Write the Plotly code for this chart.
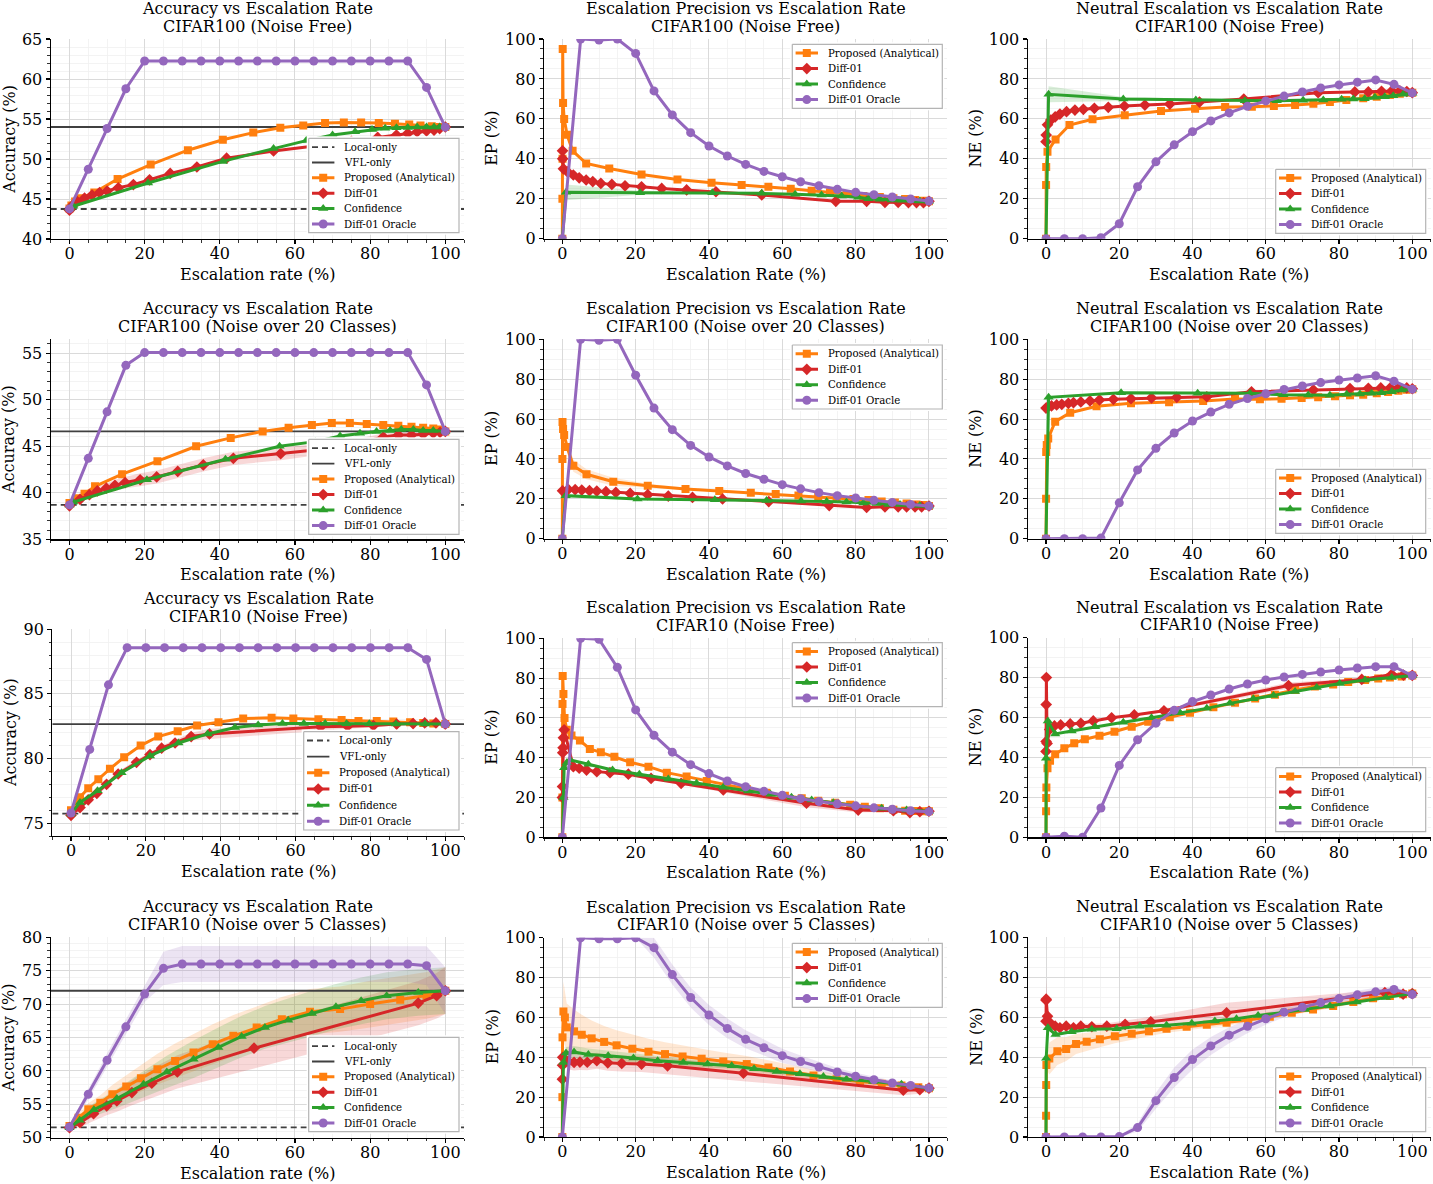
import plotly.graph_objects as go

# ======================= DATA =======================
oracle_x = [0, 5, 10, 15, 20, 25, 30, 35, 40, 45, 50, 55, 60, 65, 70, 75, 80, 85, 90, 95, 100]
ref_x = [-5, 105]

# ---- Row 1: CIFAR100 (Noise Free) ----
a1_local = 43.75
a1_vfl = 54.0
a1_prop_x = [0, 0.5, 1.5, 3, 6.6, 12.8, 21.6, 31.5, 40.8, 48.9, 56.1, 62.2, 68, 73, 77.6, 82.3, 86.6, 90.4, 93.4, 96.4, 98.4, 100]
a1_prop_y = [43.8, 44.2, 44.7, 45.1, 45.8, 47.5, 49.3, 51.1, 52.4, 53.3, 53.9, 54.2, 54.5, 54.55, 54.55, 54.5, 54.4, 54.3, 54.2, 54.1, 54.0, 54.0]
a1_diff_x = [0, 0.3, 1, 2, 4, 6, 8, 10, 13, 17, 21.3, 26.8, 33.9, 41.8, 54.3, 65, 75, 82, 87, 90, 92.5, 95, 97, 98.5, 100]
a1_diff_y = [43.6, 43.9, 44.3, 44.7, 45.1, 45.5, 45.8, 46.0, 46.4, 46.8, 47.4, 48.2, 49.0, 50.1, 51.0, 51.6, 52.2, 52.7, 53.0, 53.2, 53.4, 53.5, 53.6, 53.8, 54.0]
a1_conf_x = [0, 1, 20.9, 40.8, 54.3, 63, 70, 76, 80.5, 84, 87, 90, 92.5, 95, 97, 98.5, 100]
a1_conf_y = [43.8, 44.1, 47.0, 49.7, 51.3, 52.3, 53.0, 53.4, 53.7, 53.85, 53.9, 53.95, 54.0, 54.0, 54.0, 54.0, 54.0]
a1_orac_y = [43.76, 48.72, 53.81, 58.78, 62.25, 62.25, 62.25, 62.25, 62.25, 62.25, 62.25, 62.25, 62.25, 62.25, 62.25, 62.25, 62.25, 62.25, 62.25, 58.95, 53.98]

b1_prop_x = [0, 0.02, 0.05, 0.1, 0.2, 0.5, 1.3, 2.8, 6.5, 12.8, 21.6, 31.4, 40.7, 48.9, 56.2, 62.3, 68, 73, 77.5, 82.1, 86.6, 90.3, 93.5, 96.2, 98.5, 100]
b1_prop_y = [0, 20, 40, 95, 68, 60, 52, 44, 37.7, 35.2, 32.2, 29.7, 28.0, 26.9, 26.0, 25.0, 24.0, 23.2, 22.4, 21.4, 20.9, 20.2, 19.9, 19.4, 19.0, 18.8]
b1_diff_x = [0.05, 0.1, 0.3, 1.4, 3, 4.6, 6.5, 8.3, 10.5, 13.5, 17.1, 21.6, 27.1, 33.9, 41.9, 54.4, 74.6, 83, 88, 91.6, 94.4, 96.6, 98.5, 100]
b1_diff_y = [44, 40, 35, 33.5, 31.9, 30.5, 29.4, 28.6, 27.7, 27.2, 26.5, 26.0, 25.2, 24.4, 23.5, 21.9, 18.7, 18.7, 18.2, 18.2, 18.1, 18.1, 18.0, 18.7]
b1_conf_x = [0, 1, 21.2, 40.9, 54.4, 63.5, 70.7, 76.2, 80.7, 83.5, 86.6, 89.8, 92.5, 95.3, 97.5, 100]
b1_conf_y = [0, 23.2, 23.0, 23.0, 22.7, 22.2, 21.9, 21.4, 20.7, 20.0, 19.8, 19.4, 19.2, 19.0, 18.9, 18.7]
b1_conf_sd = [0, 4, 1, 0.5, 0.5, 0.5, 0.5, 0.5, 0.5, 0.5, 0.5, 0.5, 0.5, 0.5, 0.5, 0.5]
b1_orac_y = [0, 100, 99.5, 100, 92.8, 74, 62, 53.1, 46.4, 41.4, 37.2, 33.7, 31, 28.5, 26.5, 24.7, 23.2, 22, 20.9, 19.9, 18.9]

c1_prop_x = [0, 0.02, 0.05, 0.4, 2.6, 6.4, 12.7, 21.5, 31.4, 40.7, 48.9, 56.2, 62.2, 68, 73, 77.5, 82, 86.6, 90.3, 93.9, 96.6, 100]
c1_prop_y = [0, 26.9, 35.9, 43.6, 49.7, 56.9, 59.8, 61.8, 63.9, 65.1, 65.9, 66.1, 66.4, 66.9, 67.6, 68.4, 69.4, 70.3, 71.1, 72.0, 72.6, 73.1]
c1_diff_x = [0, 0.05, 0.4, 1.3, 2.5, 3.8, 5.6, 7.9, 10.2, 13.2, 17, 21.4, 27, 33.8, 41.9, 54, 74.3, 84.3, 88, 91.6, 94.4, 96.6, 98.5, 100]
c1_diff_y = [48.6, 51.9, 57, 59.4, 61, 62.4, 63.6, 64.4, 64.8, 65.3, 65.8, 66.4, 66.9, 67.4, 68.4, 69.9, 73.1, 73.5, 73.5, 73.8, 74.0, 74.0, 73.7, 73.1]
c1_conf_x = [0, 0.7, 21.1, 40.9, 54.3, 63, 70.2, 75.7, 80.7, 83.9, 87, 89.8, 92.5, 94.8, 97.5, 100]
c1_conf_y = [0, 72.3, 70, 69.4, 69.1, 69.1, 69.3, 69.4, 69.8, 69.9, 70.1, 70.8, 71.1, 71.6, 72.3, 72.8]
c1_conf_sd = [0, 4, 1, 0.5, 0.3, 0.3, 0.3, 0.3, 0.3, 0.3, 0.3, 0.3, 0.3, 0.3, 0.3, 0.3]
c1_orac_y = [0, 0, 0, 0.5, 7.5, 26, 38.5, 47, 53.6, 59, 63, 66.3, 69, 71.4, 73.5, 75.5, 77, 78.4, 79.5, 77.3, 73]

# ---- Row 2: CIFAR100 (Noise over 20 Classes) ----
a2_local = 38.7
a2_vfl = 46.6
a2_prop_x = [0, 2, 4, 6.8, 14, 23.4, 33.7, 42.9, 51.4, 58.3, 64.5, 69.8, 74.6, 79.1, 83.5, 87.5, 91, 94.1, 96.8, 98.6, 100]
a2_prop_y = [38.9, 39.4, 39.9, 40.7, 42.0, 43.4, 45.0, 45.9, 46.6, 47.0, 47.3, 47.5, 47.5, 47.4, 47.3, 47.2, 47.1, 47.0, 46.9, 46.8, 46.6]
a2_diff_x = [0, 2.8, 5.3, 7.4, 9.8, 12.1, 14.8, 18.8, 23.2, 28.8, 35.6, 43.6, 56.2, 65.3, 74.6, 83.5, 87.5, 91, 94.1, 96.8, 98.6, 100]
a2_diff_y = [38.6, 39.3, 39.8, 40.2, 40.5, 40.8, 41.1, 41.4, 41.7, 42.3, 43.0, 43.7, 44.2, 44.6, 45.1, 46.0, 46.2, 46.2, 46.3, 46.4, 46.5, 46.6]
a2_diff_sd = [0.1, 0.3, 0.4, 0.5, 0.5, 0.6, 0.6, 0.7, 0.7, 0.7, 0.7, 0.7, 0.7, 0.6, 0.5, 0.4, 0.3, 0.3, 0.2, 0.2, 0.1, 0.1]
a2_conf_x = [0, 1, 20.6, 41.5, 55.9, 65.4, 72, 77.3, 81.7, 85.3, 88.3, 91.5, 94.1, 96.8, 100]
a2_conf_y = [38.7, 39.0, 41.4, 43.6, 45.0, 45.5, 46.1, 46.4, 46.6, 46.7, 46.8, 46.8, 46.7, 46.7, 46.6]
a2_orac_y = [38.7, 43.7, 48.7, 53.7, 55.07, 55.07, 55.07, 55.07, 55.07, 55.07, 55.07, 55.07, 55.07, 55.07, 55.07, 55.07, 55.07, 55.07, 55.07, 51.6, 46.6]

b2_prop_x = [0, 0.02, 0.05, 0.2, 0.5, 1.3, 3, 6.6, 13.9, 23.3, 33.6, 42.8, 51.4, 58.2, 64.4, 69.8, 74.8, 79.4, 83.5, 87.1, 90.7, 93.9, 96.6, 98.5, 100]
b2_prop_y = [0, 40, 58.5, 55, 52, 46, 36.6, 32.3, 28.6, 26.6, 24.9, 23.9, 23.1, 22.4, 21.7, 21.1, 20.6, 19.9, 19.4, 18.7, 18.2, 17.7, 17.2, 16.9, 16.4]
b2_prop_sd = [0, 0, 2, 2, 2, 3, 3, 2.5, 2, 1, 0.6, 0.5, 0.5, 0.5, 0.5, 0.5, 0.5, 0.5, 0.5, 0.5, 0.5, 0.5, 0.5, 0.5, 0.5]
b2_diff_x = [0.05, 1.6, 3.5, 5.3, 7.4, 9.4, 11.9, 14.6, 18.5, 23.3, 28.9, 35.5, 43.7, 56.3, 72.8, 83, 88, 91.6, 93.9, 96.2, 98, 100]
b2_diff_y = [24, 24.7, 24.6, 24.4, 24.1, 23.9, 23.6, 23.2, 22.7, 22.1, 21.4, 20.7, 19.9, 18.6, 16.6, 15.7, 16.0, 16.0, 16.0, 16.0, 16.0, 16.4]
b2_conf_x = [0, 0.9, 20.5, 41.6, 55.7, 65.1, 72.1, 77.5, 82.1, 85.7, 88.9, 92.1, 94.8, 97.5, 100]
b2_conf_y = [0, 21.6, 19.9, 19.5, 19.2, 18.9, 18.7, 18.4, 17.9, 17.6, 17.2, 17.1, 16.9, 16.7, 16.4]
b2_orac_y = [0, 100, 99.5, 100, 82, 65.5, 54.7, 46.8, 41, 36.5, 32.7, 29.8, 27.1, 25, 23.1, 21.6, 20.4, 19.3, 18.2, 17.2, 16.4]

c2_prop_x = [0, 0.02, 0.05, 0.2, 0.6, 2.5, 6.6, 13.8, 23.2, 33.6, 42.9, 51.6, 58.4, 64.3, 69.8, 74.3, 78.9, 83, 86.6, 90.3, 93.4, 96.2, 98.4, 100]
c2_prop_y = [0, 20, 43.5, 47, 50.3, 58.7, 63.2, 66.4, 67.9, 68.4, 69.1, 70.1, 69.9, 70.2, 70.6, 70.9, 71.4, 71.9, 72.2, 72.9, 73.6, 74.2, 74.7, 75]
c2_diff_x = [0, 0.4, 1.5, 2.9, 4.3, 6.1, 7.5, 9.5, 12, 14.6, 18.4, 23.2, 28.8, 35.7, 43.9, 56.1, 73, 83, 88, 91.4, 94, 96.2, 98.5, 100]
c2_diff_y = [65.5, 65.9, 66.6, 67.1, 67.4, 67.9, 68.2, 68.6, 69.1, 69.6, 69.9, 70.2, 70.6, 70.9, 71.2, 73.7, 74.6, 75.3, 75.4, 75.6, 75.7, 75.7, 75.6, 75.2]
c2_conf_x = [0, 0.7, 20.5, 41.4, 55.7, 64.8, 71.6, 77.5, 82.1, 85.7, 88.9, 91.6, 94.4, 97.1, 100]
c2_conf_y = [0, 70.9, 73.2, 72.9, 72.9, 72.2, 72.1, 71.9, 72.4, 72.6, 72.9, 73.2, 73.7, 74.6, 75]
c2_orac_y = [0, 0, 0, 0.3, 18, 34.5, 45.3, 53, 59, 63.5, 67.4, 70.3, 72.7, 74.8, 76.6, 78.3, 79.6, 80.6, 81.7, 79, 75]

# ---- Row 3: CIFAR10 (Noise Free) ----
a3_local = 75.73
a3_vfl = 82.66
a3_prop_x = [0, 2.4, 4.6, 7.3, 10.4, 14.2, 18.6, 23.3, 28.5, 33.7, 39.4, 46, 53.6, 59.4, 66.1, 72.3, 76.8, 81.7, 86.1, 90.6, 94.1, 96.8, 100]
a3_prop_y = [76.0, 77.0, 77.7, 78.4, 79.2, 80.1, 81.0, 81.7, 82.1, 82.55, 82.8, 83.1, 83.15, 83.1, 83.04, 82.97, 82.9, 82.9, 82.86, 82.8, 82.75, 82.7, 82.66]
a3_diff_x = [0, 2.4, 4.6, 6.9, 9.5, 12.6, 17.5, 21.1, 24.2, 27.8, 32.1, 37, 66.7, 73.9, 80.8, 87, 91.4, 94.5, 97.5, 100]
a3_diff_y = [75.6, 76.2, 76.8, 77.3, 78.0, 78.8, 79.7, 80.3, 80.8, 81.2, 81.7, 81.9, 82.45, 82.5, 82.55, 82.66, 82.7, 82.75, 82.75, 82.66]
a3_diff_sd = [0.1, 0.15, 0.2, 0.2, 0.2, 0.2, 0.2, 0.2, 0.2, 0.25, 0.3, 0.4, 0.3, 0.2, 0.15, 0.1, 0.1, 0.1, 0.1, 0.1]
a3_conf_x = [0, 2.4, 7.1, 13.5, 21.1, 28.7, 36.5, 43.8, 50, 56.5, 62.2, 67.9, 73.6, 79.7, 86.8, 94.6, 100]
a3_conf_y = [75.7, 76.6, 77.5, 78.9, 80.2, 81.2, 81.9, 82.4, 82.6, 82.7, 82.7, 82.7, 82.68, 82.68, 82.66, 82.66, 82.66]
a3_orac_y = [75.78, 80.7, 85.7, 88.58, 88.58, 88.58, 88.58, 88.58, 88.58, 88.58, 88.58, 88.58, 88.58, 88.58, 88.58, 88.58, 88.58, 88.58, 88.58, 87.67, 82.66]

b3_prop_x = [0, 0.02, 0.05, 0.1, 0.3, 0.6, 1.2, 2.5, 4.8, 7.5, 10.5, 14.2, 18.5, 23.5, 28.5, 33.9, 39.4, 44.8, 50.3, 55.7, 60.7, 65.3, 69.8, 74.4, 78.5, 82.5, 86.6, 90.3, 93.5, 96.2, 98.4, 100]
b3_prop_y = [0, 20, 67, 81, 72, 60, 54, 51.1, 48.6, 44.4, 42.7, 40.5, 37.7, 35.5, 32.5, 30.5, 28.3, 26.3, 24.3, 22.4, 20.9, 19.6, 18.4, 17.4, 16.4, 15.4, 14.6, 13.9, 13.4, 13.2, 13.1, 13.1]
b3_diff_x = [0.02, 0.05, 0.1, 0.2, 0.3, 0.5, 3, 4.6, 6.6, 9.4, 13, 18, 24.2, 32.4, 43.9, 66.6, 80.7, 90.3, 94.8, 97.5, 100]
b3_diff_y = [20, 25.5, 42.5, 45, 50, 54, 35.5, 34.7, 33.8, 33, 32.5, 31.7, 29.6, 27.1, 23.8, 17.1, 13.7, 13.4, 12.4, 12.9, 13.1]
b3_diff_sd = [0, 0, 0, 0, 0, 0, 0.5, 0.5, 0.5, 0.5, 0.5, 0.5, 0.5, 0.7, 1.2, 2.0, 1.2, 0.5, 0.5, 0.5, 0.5]
b3_conf_x = [0, 0.3, 0.5, 1.2, 2.1, 7.1, 13.7, 21, 28.9, 36.6, 43.9, 50.7, 56.8, 62.5, 68, 73.9, 80.3, 87.1, 93.9, 100]
b3_conf_y = [0, 20, 35, 37.5, 38.9, 36.7, 33.8, 31.7, 29.3, 27.1, 25.1, 23.3, 21.6, 20.1, 18.8, 17.4, 15.7, 14.6, 13.7, 13.1]
b3_orac_y = [0, 100, 99.5, 85.4, 64, 51.3, 42.8, 36.5, 32, 28.3, 25.4, 23.1, 21.1, 19.4, 18, 16.8, 15.8, 14.8, 14.1, 13.4, 12.9]

c3_prop_x = [0, 0.02, 0.05, 0.1, 0.4, 1.1, 2.5, 5, 7.7, 10.6, 14.6, 18.7, 23.4, 27.9, 33.8, 39.3, 45.7, 51.6, 57.1, 62.5, 68, 73.4, 78.4, 82.5, 87.1, 90.7, 93.9, 97.1, 100]
c3_prop_y = [0, 13, 19.7, 25, 34.6, 38.4, 41.6, 44.6, 47.1, 49.1, 50.9, 52.9, 55.4, 57.9, 60.1, 62.4, 65.1, 67.4, 69.6, 71.4, 73.8, 75.5, 76.6, 77.8, 78.8, 79.5, 80.1, 80.5, 81.1]
c3_diff_x = [0, 0.02, 0.05, 0.1, 0.3, 1, 2.3, 4, 6.6, 9.5, 12.9, 17.9, 24.1, 32.2, 66.2, 86.2, 94.4, 97.6, 100]
c3_diff_y = [43, 48, 66.5, 80, 47, 54, 55.8, 56.3, 56.8, 57.1, 58.3, 59.9, 61.3, 63.4, 76, 79.1, 81.6, 81.3, 81.1]
c3_diff_sd = [0, 0, 0, 0, 0, 0, 0.5, 0.5, 0.5, 0.5, 0.5, 0.5, 0.5, 0.7, 1.5, 0.7, 0.5, 0.5, 0.5]
c3_conf_x = [0, 0.02, 0.5, 2.5, 7, 13.4, 21.1, 28.8, 36.6, 43.9, 50.2, 56.6, 62.1, 68, 73.9, 80.2, 87.1, 94.4, 100]
c3_conf_y = [0, 39.6, 58.3, 51.8, 53.3, 55.4, 57.6, 59.9, 62.4, 64.6, 67.1, 69.4, 71.1, 73, 75.1, 77.1, 78.8, 80.1, 81.1]
c3_orac_y = [0, 0.5, 0, 14.7, 36, 48.9, 57.2, 63.6, 68, 71.3, 74.3, 76.8, 78.8, 80.3, 81.6, 82.8, 83.8, 84.8, 85.5, 85.5, 81]

# ---- Row 4: CIFAR10 (Noise over 5 Classes) ----
a4_local = 51.55
a4_vfl = 72.0
a4_prop_x = [0, 2.4, 5, 8.2, 11.4, 15.1, 19, 23.4, 28.1, 33, 38.1, 43.6, 49.8, 56.5, 64, 72, 80, 88, 95, 100]
a4_prop_y = [51.75, 53.0, 54.25, 55.25, 56.5, 57.65, 58.9, 60.25, 61.5, 62.75, 64.0, 65.25, 66.5, 67.75, 68.85, 69.25, 70.0, 70.65, 71.3, 72.0]
a4_prop_sd = [0.3, 0.6, 0.9, 1.1, 1.4, 1.7, 2.0, 2.3, 2.6, 2.8, 3.0, 3.1, 3.2, 3.3, 3.4, 3.4, 3.5, 3.5, 3.5, 3.5]
a4_diff_x = [0, 2.8, 6.4, 9.9, 12.6, 16.6, 21.9, 28.7, 49.1, 92.8, 97.7, 100]
a4_diff_y = [51.5, 52.25, 53.6, 54.75, 55.5, 56.75, 58.15, 59.85, 63.4, 70.15, 71.25, 72.0]
a4_diff_sd = [0.3, 0.7, 1.1, 1.4, 1.6, 1.9, 2.2, 2.5, 3.0, 3.3, 3.4, 3.5]
a4_conf_x = [0, 2.7, 6.5, 12.6, 19.7, 25.9, 33, 39.6, 45.8, 52, 58.2, 64.5, 70.9, 77.6, 84.4, 92.8, 100]
a4_conf_y = [51.5, 52.6, 54.2, 55.85, 58.0, 59.85, 61.75, 63.5, 65.15, 66.5, 67.6, 68.6, 69.6, 70.5, 71.25, 71.75, 72.0]
a4_conf_sd = [0.3, 0.6, 1.0, 1.4, 2.0, 2.4, 2.8, 3.0, 3.1, 3.2, 3.3, 3.4, 3.4, 3.5, 3.5, 3.5, 3.5]
a4_orac_y = [51.6, 56.5, 61.6, 66.6, 71.5, 75.35, 76.0, 76.0, 76.0, 76.0, 76.0, 76.0, 76.0, 76.0, 76.0, 76.0, 76.0, 76.0, 76.0, 75.75, 72.0]
a4_orac_sd = [0.3, 0.8, 1.0, 1.1, 1.2, 2.5, 2.7, 2.7, 2.7, 2.7, 2.7, 2.7, 2.7, 2.7, 2.7, 2.7, 2.7, 2.7, 2.7, 2.9, 3.5]

b4_prop_x = [0, 0.02, 0.05, 0.3, 0.7, 1.2, 3.2, 5.3, 8, 11.4, 14.8, 19.1, 23.5, 28, 32.8, 38, 43.9, 50.3, 56.2, 62.1, 68.5, 74.8, 81.2, 87.1, 92.5, 97.1, 100]
b4_prop_y = [0, 20, 50, 63, 60, 55, 53, 51.3, 49.5, 47.7, 46, 44.3, 42.8, 41.6, 40.4, 39.3, 37.9, 36.6, 34.9, 32.9, 30.9, 29, 27.9, 26.7, 25.8, 25, 24.5]
b4_prop_sd = [0, 3, 10, 15, 14, 12, 11, 10, 9, 8, 7.5, 7, 6.5, 6, 5.5, 5, 4.5, 4, 3.6, 3.2, 2.8, 2.5, 2.2, 1.9, 1.6, 1.3, 1.0]
b4_diff_x = [0.02, 0.05, 0.1, 1.6, 3.2, 4.8, 6.8, 9.4, 12.4, 16.2, 21.6, 28.7, 49.4, 93, 97.5, 100]
b4_diff_y = [29, 36, 40, 37.9, 37.4, 37.6, 37.5, 38.3, 37.2, 36.9, 36.6, 35.7, 32, 23.5, 23.7, 24.5]
b4_diff_sd = [2, 3, 3, 4, 4, 4, 4, 4, 4, 4, 4, 4, 4, 2.5, 2, 1.5]
b4_conf_x = [0, 0.3, 1, 3.2, 7.1, 12.5, 19.4, 26, 33, 39.6, 46.2, 52.3, 58.5, 64.8, 71.2, 77.5, 84.8, 92.5, 100]
b4_conf_y = [0, 37.4, 42.1, 42.6, 41.4, 40.8, 39.6, 38.3, 37.4, 36.6, 35.7, 34.2, 32.9, 31.7, 30.4, 29, 27.9, 26.5, 24.5]
b4_conf_sd = [0, 2, 3, 3, 3, 2.5, 2.2, 2, 1.8, 1.6, 1.5, 1.4, 1.3, 1.2, 1.1, 1.0, 0.9, 0.8, 0.7]
b4_orac_y = [0, 100, 99.5, 99.5, 100, 95, 81.5, 70, 61.2, 54.5, 49, 44.8, 40.8, 37.9, 35.1, 32.6, 30.5, 28.7, 27.1, 25.9, 24.6]
b4_orac_sd = [0, 0, 0, 0, 0, 5, 5, 5, 5, 5, 4.5, 4, 3.5, 3, 2.5, 2, 1.8, 1.5, 1.2, 1, 1]

c4_prop_x = [0, 0.02, 0.05, 0.1, 0.9, 3.1, 5.5, 8.2, 11.1, 14.7, 18.8, 23.4, 28.1, 32.9, 38.4, 43.9, 49.3, 55.2, 61.1, 67.1, 72.9, 78.4, 83.9, 89.3, 93.9, 97.5, 100]
c4_prop_y = [0, 10.6, 26, 36, 39.3, 43, 44.1, 46.6, 47.7, 49, 50.5, 51.7, 52.9, 54.2, 55.2, 56.2, 57.2, 58.6, 60.2, 62.2, 63.9, 65.6, 67.6, 69.5, 70.6, 71.5, 71.8]
c4_prop_sd = [0, 0, 0, 2, 8, 7, 6, 5, 4.5, 4, 3.5, 3, 2.5, 2, 1.8, 1.6, 1.4, 1.2, 1, 1, 1, 1, 1, 1, 1, 1, 1]
c4_diff_x = [0, 0.02, 0.05, 0.4, 1.1, 2.5, 3.8, 5.5, 7.5, 9.5, 12.5, 16.6, 21.6, 28.6, 49.3, 92.5, 97.5, 100]
c4_diff_y = [58, 68.5, 69, 60.5, 57.2, 55.5, 54.7, 55.5, 54.7, 55.5, 55.2, 55.5, 56.4, 57.7, 62.2, 72.3, 71.5, 71.8]
c4_diff_sd = [10, 10, 10, 4, 3, 2, 1.5, 1.5, 1.5, 1.5, 1.5, 1.5, 2, 2.5, 5, 1.5, 1, 1]
c4_conf_x = [0, 0.05, 0.5, 2.6, 7, 12.5, 19.3, 25.6, 32.9, 39.8, 46.1, 52, 57.9, 64.3, 70.7, 77.5, 84.8, 92.8, 100]
c4_conf_y = [0, 39.4, 54.7, 51.3, 52.7, 53.9, 54.2, 55.5, 56, 56.9, 58.1, 59.2, 60.9, 62.2, 63.9, 65.6, 67.6, 69.8, 71.8]
c4_orac_y = [0, 0, 0, 0, 0.2, 4.7, 18.2, 29.8, 38.8, 45.6, 51, 55.4, 59.2, 62.5, 65, 67.3, 69.3, 71.2, 72.7, 73.9, 71.4]
c4_orac_sd = [0, 0, 0, 0, 0.3, 2, 4, 5, 5, 4.5, 4, 3.5, 3, 2.5, 2, 2, 2, 2, 2, 1.5, 1]

# ======================= STYLE =======================
W, H = 1433, 1184
FONT = "DejaVu Serif"
FS = 16
LFS = 10.2
C_PROP, C_DIFF, C_CONF, C_ORAC = "#ff7f0e", "#d62728", "#2ca02c", "#9467bd"
C_REF = "#404040"
N_PROP, N_DIFF, N_CONF, N_ORAC = "Proposed (Analytical)", "Diff-01", "Confidence", "Diff-01 Oracle"
SYM = {N_PROP: ("square", 8), N_DIFF: ("diamond", 9), N_CONF: ("triangle-up", 9), N_ORAC: ("circle", 9)}
COL = {N_PROP: C_PROP, N_DIFF: C_DIFF, N_CONF: C_CONF, N_ORAC: C_ORAC}


def rgba(hexc, a):
    h = hexc.lstrip("#")
    return "rgba(%d,%d,%d,%.2f)" % (int(h[0:2], 16), int(h[2:4], 16), int(h[4:6], 16), a)


ACC_T = "Accuracy vs Escalation Rate"
EP_T = "Escalation Precision vs Escalation Rate"
NE_T = "Neutral Escalation vs Escalation Rate"
D1, D2, D3, D4 = "CIFAR100 (Noise Free)", "CIFAR100 (Noise over 20 Classes)", "CIFAR10 (Noise Free)", "CIFAR10 (Noise over 5 Classes)"

# geometry in pixels: axes x (left,right), axes y (top,bottom), legend box (left,top,right,bottom)
XA, XB, XC = (50.7, 464.1), (544, 947.3), (1027.7, 1430.6)
PANELS = [
    dict(t=(ACC_T, D1), xl="Escalation rate (%)", yl="Accuracy (%)", yr=[40, 65], dt=5, mdt=1, yo=42,
         gx=XA, gy=(39, 239), lg=(308.7, 138.3, 459, 232.7), ref=(a1_local, a1_vfl),
         s=[(N_PROP, a1_prop_x, a1_prop_y, None), (N_DIFF, a1_diff_x, a1_diff_y, None),
            (N_CONF, a1_conf_x, a1_conf_y, None), (N_ORAC, oracle_x, a1_orac_y, None)]),
    dict(t=(EP_T, D1), xl="Escalation Rate (%)", yl="EP (%)", yr=[0, 100], dt=20, mdt=5, yo=52,
         gx=XB, gy=(39, 238.7), lg=(792.3, 44.3, 942.3, 108.3), ref=None,
         s=[(N_PROP, b1_prop_x, b1_prop_y, None), (N_DIFF, b1_diff_x, b1_diff_y, None),
            (N_CONF, b1_conf_x, b1_conf_y, b1_conf_sd), (N_ORAC, oracle_x, b1_orac_y, None)]),
    dict(t=(NE_T, D1), xl="Escalation Rate (%)", yl="NE (%)", yr=[0, 100], dt=20, mdt=5, yo=52,
         gx=XC, gy=(39, 238.7), lg=(1275.7, 169.3, 1425.7, 233.3), ref=None,
         s=[(N_PROP, c1_prop_x, c1_prop_y, None), (N_DIFF, c1_diff_x, c1_diff_y, None),
            (N_CONF, c1_conf_x, c1_conf_y, c1_conf_sd), (N_ORAC, oracle_x, c1_orac_y, None)]),
    dict(t=(ACC_T, D2), xl="Escalation rate (%)", yl="Accuracy (%)", yr=[35, 56.5], dt=5, mdt=1, yo=42,
         gx=XA, gy=(339.3, 539.3), lg=(308.7, 439.3, 459, 534.3), ref=(a2_local, a2_vfl),
         s=[(N_PROP, a2_prop_x, a2_prop_y, None), (N_DIFF, a2_diff_x, a2_diff_y, a2_diff_sd),
            (N_CONF, a2_conf_x, a2_conf_y, None), (N_ORAC, oracle_x, a2_orac_y, None)]),
    dict(t=(EP_T, D2), xl="Escalation Rate (%)", yl="EP (%)", yr=[0, 100], dt=20, mdt=5, yo=52,
         gx=XB, gy=(339.3, 538.7), lg=(792.3, 345, 942.3, 409), ref=None,
         s=[(N_PROP, b2_prop_x, b2_prop_y, b2_prop_sd), (N_DIFF, b2_diff_x, b2_diff_y, None),
            (N_CONF, b2_conf_x, b2_conf_y, None), (N_ORAC, oracle_x, b2_orac_y, None)]),
    dict(t=(NE_T, D2), xl="Escalation Rate (%)", yl="NE (%)", yr=[0, 100], dt=20, mdt=5, yo=52,
         gx=XC, gy=(339.3, 538.7), lg=(1275.7, 469.3, 1425.7, 533.3), ref=None,
         s=[(N_PROP, c2_prop_x, c2_prop_y, None), (N_DIFF, c2_diff_x, c2_diff_y, None),
            (N_CONF, c2_conf_x, c2_conf_y, None), (N_ORAC, oracle_x, c2_orac_y, None)]),
    dict(t=(ACC_T, D3), xl="Escalation rate (%)", yl="Accuracy (%)", yr=[74, 90], dt=5, mdt=1, yo=42,
         gx=(52.3, 464), gy=(629.3, 836), lg=(303.7, 731.7, 459, 830), ref=(a3_local, a3_vfl),
         s=[(N_PROP, a3_prop_x, a3_prop_y, None), (N_DIFF, a3_diff_x, a3_diff_y, a3_diff_sd),
            (N_CONF, a3_conf_x, a3_conf_y, None), (N_ORAC, oracle_x, a3_orac_y, None)]),
    dict(t=(EP_T, D3), xl="Escalation Rate (%)", yl="EP (%)", yr=[0, 100], dt=20, mdt=5, yo=52,
         gx=XB, gy=(638.3, 837.3), lg=(792.3, 642.7, 942.3, 706.7), ref=None,
         s=[(N_PROP, b3_prop_x, b3_prop_y, None), (N_DIFF, b3_diff_x, b3_diff_y, b3_diff_sd),
            (N_CONF, b3_conf_x, b3_conf_y, None), (N_ORAC, oracle_x, b3_orac_y, None)]),
    dict(t=(NE_T, D3), xl="Escalation Rate (%)", yl="NE (%)", yr=[0, 100], dt=20, mdt=5, yo=52,
         gx=XC, gy=(637.7, 837.3), lg=(1275.7, 767.7, 1425.7, 831.7), ref=None,
         s=[(N_PROP, c3_prop_x, c3_prop_y, None), (N_DIFF, c3_diff_x, c3_diff_y, c3_diff_sd),
            (N_CONF, c3_conf_x, c3_conf_y, None), (N_ORAC, oracle_x, c3_orac_y, None)]),
    dict(t=(ACC_T, D4), xl="Escalation rate (%)", yl="Accuracy (%)", yr=[50, 80], dt=5, mdt=1, yo=42,
         gx=XA, gy=(937.3, 1137.7), lg=(308.7, 1037.3, 459, 1131.7), ref=(a4_local, a4_vfl),
         s=[(N_PROP, a4_prop_x, a4_prop_y, a4_prop_sd), (N_DIFF, a4_diff_x, a4_diff_y, a4_diff_sd),
            (N_CONF, a4_conf_x, a4_conf_y, a4_conf_sd), (N_ORAC, oracle_x, a4_orac_y, a4_orac_sd)]),
    dict(t=(EP_T, D4), xl="Escalation Rate (%)", yl="EP (%)", yr=[0, 100], dt=20, mdt=5, yo=52,
         gx=XB, gy=(937.7, 1137), lg=(792.3, 943.3, 942.3, 1007.3), ref=None,
         s=[(N_PROP, b4_prop_x, b4_prop_y, b4_prop_sd), (N_DIFF, b4_diff_x, b4_diff_y, b4_diff_sd),
            (N_CONF, b4_conf_x, b4_conf_y, b4_conf_sd), (N_ORAC, oracle_x, b4_orac_y, b4_orac_sd)]),
    dict(t=(NE_T, D4), xl="Escalation Rate (%)", yl="NE (%)", yr=[0, 100], dt=20, mdt=5, yo=52,
         gx=XC, gy=(937.3, 1137), lg=(1275.7, 1067.7, 1425.7, 1131.7), ref=None,
         s=[(N_PROP, c4_prop_x, c4_prop_y, c4_prop_sd), (N_DIFF, c4_diff_x, c4_diff_y, c4_diff_sd),
            (N_CONF, c4_conf_x, c4_conf_y, None), (N_ORAC, oracle_x, c4_orac_y, c4_orac_sd)]),
]

fig = go.Figure()
layout = dict(width=W, height=H, autosize=False,
              margin=dict(l=0, r=0, t=0, b=0, pad=0, autoexpand=False),
              paper_bgcolor="white", plot_bgcolor="white", showlegend=False,
              font=dict(family=FONT, size=FS, color="black"), annotations=[])
NP = len(PANELS)


def px_x(v):
    return v / W


def px_y(v):
    return 1 - v / H


def text_ann(text, x, y, size=FS, angle=0, **kw):
    d = dict(text=text, x=x, y=y, xref="paper", yref="paper", xanchor="center", yanchor="middle",
             showarrow=False, textangle=angle, font=dict(family=FONT, size=size, color="black"))
    d.update(kw)
    return d


for i, p in enumerate(PANELS, start=1):
    xa, ya = "x%d" % i, "y%d" % i
    xk = "xaxis" if i == 1 else "xaxis%d" % i
    yk = "yaxis" if i == 1 else "yaxis%d" % i
    xa_ref, ya_ref = ("x" if i == 1 else xa), ("y" if i == 1 else ya)
    common = dict(ticks="outside", ticklen=4, tickwidth=1.1, tickcolor="black",
                  showline=True, linecolor="black", linewidth=1.2, mirror=False,
                  showgrid=True, gridcolor="#dadada", gridwidth=1, zeroline=False, automargin=False,
                  tickfont=dict(family=FONT, size=FS, color="black"), fixedrange=True)
    layout[xk] = dict(common, domain=[px_x(p["gx"][0]), px_x(p["gx"][1])], anchor=ya_ref,
                      range=[-5, 105], tick0=0, dtick=20, autorange=False, ticklabelstandoff=-4,
                      minor=dict(tick0=0, dtick=5, ticks="outside", ticklen=2.5, tickwidth=0.8,
                                 tickcolor="black", showgrid=True, gridcolor="#f0f0f0", gridwidth=0.8))
    layout[yk] = dict(common, domain=[px_y(p["gy"][1]), px_y(p["gy"][0])], anchor=xa_ref,
                      range=p["yr"], tick0=0, dtick=p["dt"], autorange=False,
                      minor=dict(tick0=0, dtick=p["mdt"], ticks="outside", ticklen=2.5, tickwidth=0.8,
                                 tickcolor="black", showgrid=True, gridcolor="#f0f0f0", gridwidth=0.8))

    # bands
    for name, xs, ys, sd in p["s"]:
        if sd is None:
            continue
        up = [a + b for a, b in zip(ys, sd)]
        lo = [a - b for a, b in zip(ys, sd)]
        fig.add_trace(go.Scatter(x=list(xs) + list(xs)[::-1], y=up + lo[::-1], fill="toself",
                                 fillcolor=rgba(COL[name], 0.18), line=dict(width=0), mode="lines",
                                 hoverinfo="skip", showlegend=False, xaxis=xa_ref, yaxis=ya_ref))
    # reference lines
    if p["ref"] is not None:
        loc, vfl = p["ref"]
        fig.add_trace(go.Scatter(x=ref_x, y=[loc, loc], mode="lines", line=dict(color=C_REF, width=1.8, dash="6px,4px"),
                                 hoverinfo="skip", showlegend=False, xaxis=xa_ref, yaxis=ya_ref))
        fig.add_trace(go.Scatter(x=ref_x, y=[vfl, vfl], mode="lines", line=dict(color=C_REF, width=1.8),
                                 hoverinfo="skip", showlegend=False, xaxis=xa_ref, yaxis=ya_ref))
    # series
    for name, xs, ys, sd in p["s"]:
        sym, sz = SYM[name]
        fig.add_trace(go.Scatter(x=xs, y=ys, mode="lines+markers", name=name,
                                 line=dict(color=COL[name], width=3),
                                 marker=dict(symbol=sym, size=sz, color=COL[name]),
                                 showlegend=False, xaxis=xa_ref, yaxis=ya_ref))

    # titles (two lines) and axis labels
    cxp = (p["gx"][0] + p["gx"][1]) / 2
    cyp = (p["gy"][0] + p["gy"][1]) / 2
    top, bot = p["gy"]
    layout["annotations"].append(text_ann(p["t"][0], px_x(cxp), px_y(top - 30.5)))
    layout["annotations"].append(text_ann(p["t"][1], px_x(cxp), px_y(top - 12.8)))
    layout["annotations"].append(text_ann(p["xl"], px_x(cxp), px_y(bot + 35.5)))
    layout["annotations"].append(text_ann(p["yl"], px_x(p["gx"][0] - p["yo"]), px_y(cyp), angle=-90))

# ---------- manual legends (overlay axes, pixel units) ----------
for i, p in enumerate(PANELS, start=1):
    n = NP + i
    xa, ya = "x%d" % n, "y%d" % n
    l, t, r, b = p["lg"]
    bw, bh = r - l, b - t
    layout["xaxis%d" % n] = dict(domain=[px_x(l - 2), px_x(r + 2)], range=[-2, bw + 2], visible=False,
                                 anchor=ya, fixedrange=True, autorange=False, automargin=False)
    layout["yaxis%d" % n] = dict(domain=[px_y(b + 2), px_y(t - 2)], range=[bh + 2, -2], visible=False,
                                 anchor=xa, fixedrange=True, autorange=False, automargin=False)
    fig.add_trace(go.Scatter(x=[0, bw, bw, 0, 0], y=[0, 0, bh, bh, 0], mode="lines", fill="toself",
                             fillcolor="rgba(255,255,255,0.85)", line=dict(color="#b4b4b4", width=1.2),
                             hoverinfo="skip", showlegend=False, xaxis=xa, yaxis=ya))
    items = []
    if p["ref"] is not None:
        items.append(("Local-only", C_REF, "6px,4px", None, 1.8))
        items.append(("VFL-only", C_REF, "solid", None, 1.8))
    for name, xs, ys, sd in p["s"]:
        items.append((name, COL[name], "solid", SYM[name], 3))
    nitems = len(items)
    step = (bh - 17.5) / (nitems - 1)
    for j, (lab, col, dash, sym, lw) in enumerate(items):
        yc = 8.8 + j * step
        fig.add_trace(go.Scatter(x=[3.3, 25.7], y=[yc, yc], mode="lines", line=dict(color=col, width=lw, dash=dash),
                                 hoverinfo="skip", showlegend=False, xaxis=xa, yaxis=ya))
        if sym is not None:
            fig.add_trace(go.Scatter(x=[14.5], y=[yc], mode="markers",
                                     marker=dict(symbol=sym[0], size=sym[1], color=col),
                                     hoverinfo="skip", showlegend=False, xaxis=xa, yaxis=ya))
        layout["annotations"].append(dict(text=lab, x=33.5, y=yc, xref=xa, yref=ya, xanchor="left",
                                          yanchor="middle", showarrow=False,
                                          font=dict(family=FONT, size=LFS, color="black")))

fig.update_layout(**layout)
fig.write_html("out.html", include_plotlyjs=True, full_html=True,
               config=dict(displayModeBar=False, staticPlot=True, responsive=False))
